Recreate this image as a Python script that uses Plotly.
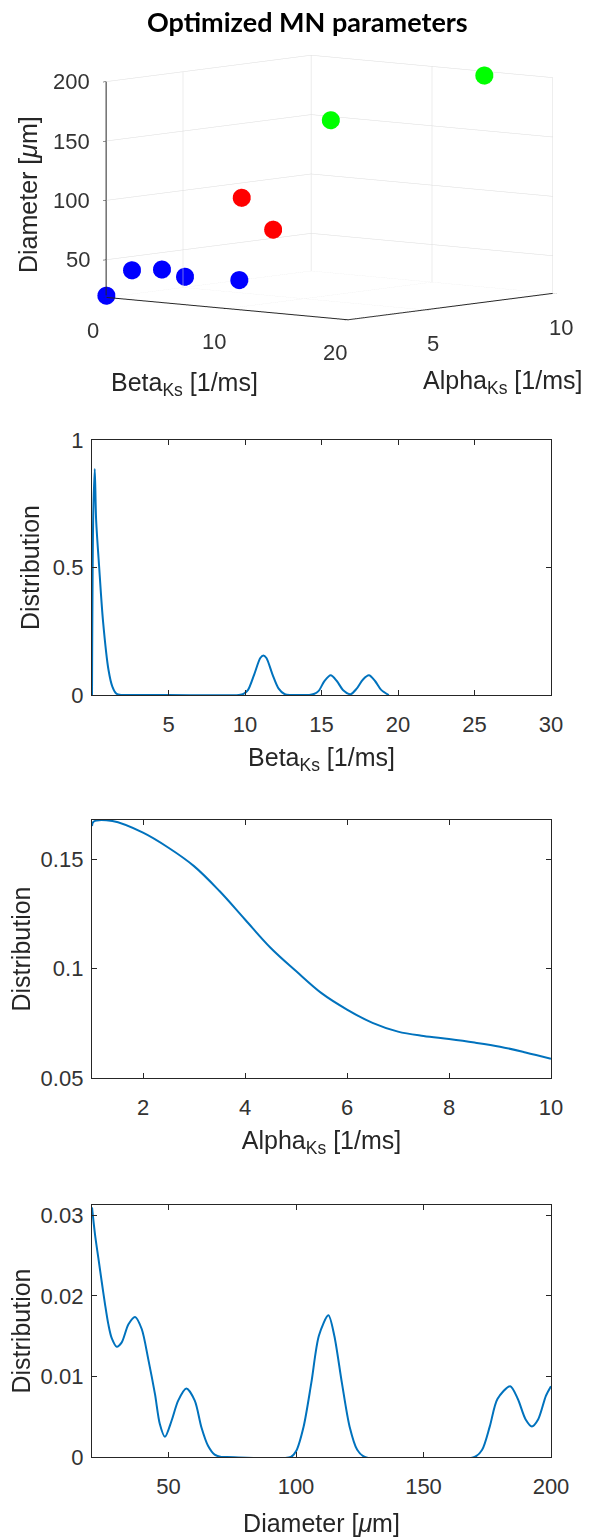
import plotly.graph_objects as go

# ---------------- data ----------------
# 3D scatter points: (Beta_Ks, Alpha_Ks, Diameter)
blue_beta = [0.0, 0.0, 0.0, 0.0, 11.0]
blue_alpha = [2.0, 3.0, 4.17, 5.07, 2.0]
blue_diam = [20.0, 38.6, 36.0, 27.4, 43.5]

red_beta = [11.2, 13.8]
red_alpha = [2.0, 2.0]
red_diam = [113.0, 88.6]

green_beta = [18.0, 15.8]
green_alpha = [2.27, 9.3]
green_diam = [184.0, 200.0]

# 3D tick labels
scene_beta_ticks = [0, 10, 20]
scene_alpha_ticks = [5, 10]
scene_diam_ticks = [50, 100, 150, 200]

# Beta distribution
beta_x = [0.0, 0.08, 0.18, 0.27, 0.47, 0.72, 1.08, 1.33, 1.6, 1.9, 2.2, 5.0, 9.6, 9.9, 10.2, 10.6, 11.0, 11.2,
          11.4, 11.8, 12.2, 12.6, 13.0, 13.3, 14.2, 14.5, 14.8, 15.2, 15.6, 16.0, 16.4, 16.9, 17.3, 17.7, 18.1,
          18.5, 18.9, 19.4]
beta_y = [0.0, 0.70, 0.886, 0.686, 0.50, 0.29, 0.098, 0.033, 0.005, 0.0, 0.0, 0.0, 0.0, 0.004, 0.02, 0.08, 0.145,
          0.155, 0.145, 0.08, 0.025, 0.003, 0.0, 0.0, 0.0, 0.004, 0.015, 0.055, 0.077, 0.055, 0.02, 0.003, 0.025,
          0.06, 0.077, 0.055, 0.02, 0.0]

# Alpha distribution
alpha_x = [1.0, 1.03, 1.4, 2.0, 2.5, 3.0, 3.5, 4.0, 4.5, 5.0, 5.5, 6.0, 6.5, 7.0, 7.5, 8.0, 8.5, 9.0, 9.5, 10.0]
alpha_y = [0.1652, 0.1672, 0.1675, 0.1622, 0.1553, 0.1469, 0.1355, 0.1225, 0.1096, 0.0989, 0.0888, 0.0813,
           0.0752, 0.0712, 0.0692, 0.0678, 0.0662, 0.0643, 0.0617, 0.0588]

# Diameter distribution
diam_x = [20, 21.2, 22.5, 23.8, 25.1, 26.4, 27.7, 29.7, 31.6, 34.3, 36.9, 39.5, 42.1, 44.7, 46.6, 48.6, 51.2,
          53.8, 57.0, 60.3, 62.9, 65.5, 68.1, 70.7, 73, 98, 100, 103, 106, 109, 112.7, 115, 118, 121, 124, 127,
          170, 173, 176, 179, 184, 187, 190, 192.5, 195, 198, 200]
diam_y = [0.0310, 0.0276, 0.0247, 0.0218, 0.0190, 0.0165, 0.0148, 0.0137, 0.0142, 0.0165, 0.0174, 0.0159,
          0.0121, 0.0078, 0.0041, 0.0025, 0.0045, 0.0070, 0.0085, 0.0070, 0.0037, 0.0014, 0.0003, 0.0, 0.0,
          0.0, 0.0007, 0.0038, 0.0092, 0.0151, 0.0176, 0.0151, 0.0092, 0.0038, 0.0009, 0.0, 0.0, 0.0009,
          0.0038, 0.0072, 0.0088, 0.0072, 0.0047, 0.0038, 0.0047, 0.0076, 0.0088]

beta_ticks = [5, 10, 15, 20, 25, 30]
alpha_ticks = [2, 4, 6, 8, 10]
diam_ticks = [50, 100, 150, 200]

# ---------------- figure ----------------
W, H = 600, 1537
LINE = "#0072BD"
AX = "#262626"
TXT = "#333333"
FONT = "Liberation Sans"
TICK = 22
LAB = 25

BETA_RANGE = [0, 20]
ALPHA_RANGE = [2, 10]
DIAM_RANGE = [18.3, 200]

def py(px):
    return 1 - px / H

fig = go.Figure()

for bx, ay, dz, col in [(blue_beta, blue_alpha, blue_diam, "#0000FF"),
                        (red_beta, red_alpha, red_diam, "#FF0000"),
                        (green_beta, green_alpha, green_diam, "#00FF00")]:
    fig.add_trace(go.Scatter3d(x=bx, y=ay, z=dz, mode="markers",
                               marker=dict(size=10.5, color=col, line=dict(width=0)),
                               showlegend=False))

fig.add_trace(go.Scatter(x=beta_x, y=beta_y, mode="lines", line=dict(color=LINE, width=2, shape="spline", smoothing=0.8),
                         xaxis="x", yaxis="y", showlegend=False))
fig.add_trace(go.Scatter(x=alpha_x, y=alpha_y, mode="lines", line=dict(color=LINE, width=2, shape="spline"),
                         xaxis="x2", yaxis="y2", showlegend=False))
fig.add_trace(go.Scatter(x=diam_x, y=diam_y, mode="lines", line=dict(color=LINE, width=2, shape="spline", smoothing=0.8),
                         xaxis="x3", yaxis="y3", showlegend=False))

xd = [92 / W, 551 / W]

def ax2d(**kw):
    d = dict(showline=True, linecolor=AX, linewidth=1.3, mirror="ticks", ticks="inside",
             ticklen=5, tickcolor=AX, showgrid=False, zeroline=False, automargin=False,
             tickfont=dict(family=FONT, size=TICK, color=TXT))
    d.update(kw)
    return d

def ttl(text, standoff):
    return dict(text=text, font=dict(family=FONT, size=LAB, color=AX), standoff=standoff)

sc_axis = dict(showbackground=False, gridcolor="#dcdcdc", gridwidth=1, showline=True, linecolor=AX,
               linewidth=2, zeroline=False, showspikes=False, ticks="outside", tickcolor=AX, ticklen=5,
               showticklabels=False, title=dict(text=""))

tickfont3d = dict(family=FONT, size=TICK, color=TXT)
scene_ann = []
for t in scene_beta_ticks:
    scene_ann.append(dict(x=t, y=ALPHA_RANGE[0], z=DIAM_RANGE[0], text=str(t), showarrow=False,
                          xanchor="center", yanchor="middle", xshift=-13, yshift=-33, font=tickfont3d))
for t in scene_alpha_ticks:
    scene_ann.append(dict(x=BETA_RANGE[1], y=t, z=DIAM_RANGE[0], text=str(t), showarrow=False,
                          xanchor="center", yanchor="middle", xshift=8, yshift=-34, font=tickfont3d))
for t in scene_diam_ticks:
    scene_ann.append(dict(x=BETA_RANGE[0], y=ALPHA_RANGE[0], z=t, text=str(t), showarrow=False,
                          xanchor="right", yanchor="middle", xshift=-14, yshift=0, font=tickfont3d))

S = 1.69
fig.update_layout(
    width=W, height=H, margin=dict(l=0, r=0, t=0, b=0, autoexpand=False),
    paper_bgcolor="white", plot_bgcolor="white",
    scene=dict(
        domain=dict(x=[59 / W, 1.0], y=[py(375), 1.0]),
        xaxis=dict(sc_axis, range=BETA_RANGE, tickvals=scene_beta_ticks),
        yaxis=dict(sc_axis, range=ALPHA_RANGE, tickvals=scene_alpha_ticks),
        zaxis=dict(sc_axis, range=DIAM_RANGE, tickvals=scene_diam_ticks),
        aspectmode="manual", aspectratio=dict(x=S, y=S, z=0.685 * S),
        camera=dict(projection=dict(type="orthographic"),
                    eye=dict(x=0.647 * 1.7, y=-0.763 * 1.7, z=0.11 * 1.7),
                    up=dict(x=0, y=0, z=1), center=dict(x=0, y=0, z=0)),
        annotations=scene_ann,
    ),
    xaxis=ax2d(domain=xd, range=[0, 30], tickvals=beta_ticks, anchor="y", ticklabelstandoff=9,
               title=ttl("Beta<sub>Ks</sub> [1/ms]", 12)),
    yaxis=ax2d(domain=[py(695), py(440)], range=[0, 1], tickvals=[0, 0.5, 1], ticktext=["0", "0.5", "1"], anchor="x",
               ticklabelstandoff=3, title=ttl("Distribution", 6)),
    xaxis2=ax2d(domain=xd, range=[1, 10], tickvals=alpha_ticks, anchor="y2", ticklabelstandoff=9,
                title=ttl("Alpha<sub>Ks</sub> [1/ms]", 12)),
    yaxis2=ax2d(domain=[py(1078), py(820)], range=[0.05, 0.168], tickvals=[0.05, 0.1, 0.15],
                ticktext=["0.05", "0.1", "0.15"], anchor="x2", ticklabelstandoff=3,
                title=ttl("Distribution", 2)),
    xaxis3=ax2d(domain=xd, range=[20, 200], tickvals=diam_ticks, anchor="y3", ticklabelstandoff=9,
                title=ttl("Diameter [<i>μ</i>m]", 19)),
    yaxis3=ax2d(domain=[py(1457), py(1205)], range=[0, 0.0313], tickvals=[0, 0.01, 0.02, 0.03],
                ticktext=["0", "0.01", "0.02", "0.03"], anchor="x3", ticklabelstandoff=3,
                title=ttl("Distribution", 2)),
    annotations=[
        dict(text="<b>Optimized MN parameters</b>", x=307 / W, y=py(22), xref="paper", yref="paper",
             showarrow=False, font=dict(family="Lato", size=27, color="black"), xanchor="center", yanchor="middle"),
        dict(text="Beta<sub>Ks</sub> [1/ms]", x=184 / W, y=py(384), xref="paper", yref="paper",
             showarrow=False, font=dict(family=FONT, size=LAB, color=AX), xanchor="center", yanchor="middle"),
        dict(text="Alpha<sub>Ks</sub> [1/ms]", x=502 / W, y=py(382), xref="paper", yref="paper",
             showarrow=False, font=dict(family=FONT, size=LAB, color=AX), xanchor="center", yanchor="middle"),
        dict(text="Diameter [<i>μ</i>m]", x=28 / W, y=py(195), xref="paper", yref="paper", textangle=-90,
             showarrow=False, font=dict(family=FONT, size=LAB, color=AX), xanchor="center", yanchor="middle"),
    ],
)

fig.write_html("out.html", config={"displayModeBar": False},
               post_script="document.body.style.margin='0px';"
                           "document.documentElement.style.overflow='hidden';"
                           "document.body.style.overflow='hidden';")
